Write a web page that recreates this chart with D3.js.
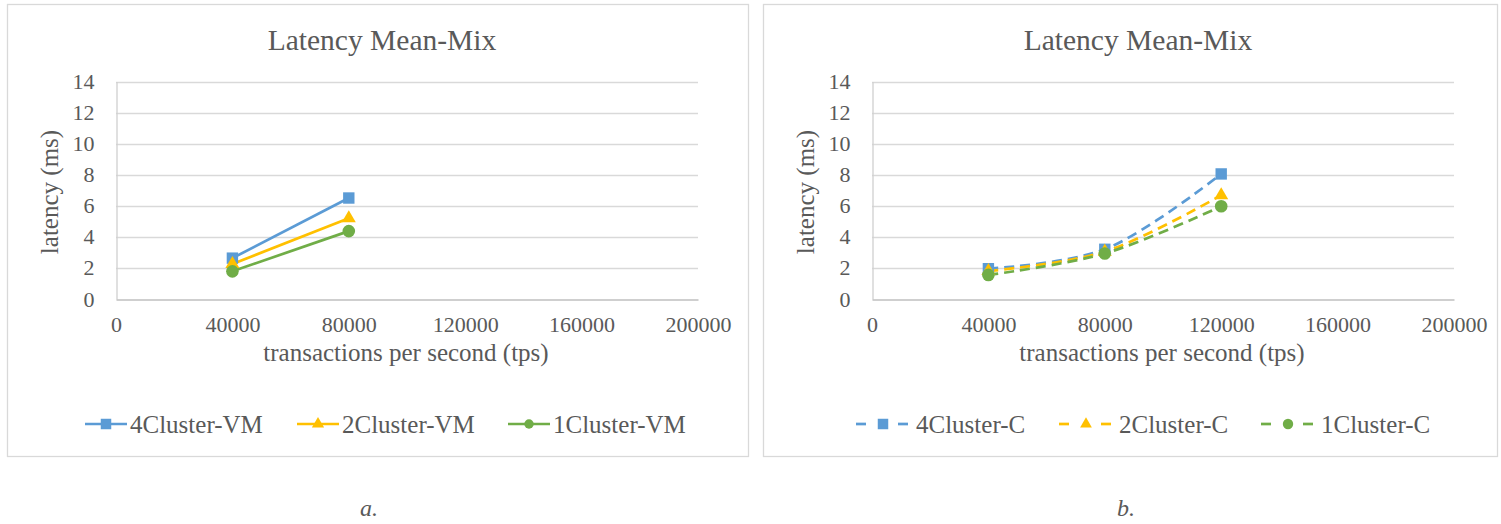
<!DOCTYPE html>
<html>
<head>
<meta charset="utf-8">
<script src="https://cdn.jsdelivr.net/npm/d3@7"></script>
<style>
  html, body { margin: 0; padding: 0; background: #fff; }
  svg { display: block; }
  svg text { fill: #595959; }
</style>
</head>
<body>
<svg id="chart" width="1501" height="524"></svg>
<script>
// Throughput (tps) at which latency was measured
const tpsVM = [40000, 80000];
const tpsC = [40000, 80000, 120000];

// Mean latency (ms), VM deployments
const vm4 = [2.63, 6.5];
const vm2 = [2.25, 5.2];
const vm1 = [1.78, 4.37];

// Mean latency (ms), container deployments
const c4 = [1.95, 3.2, 8.05];
const c2 = [1.8, 3.05, 6.68];
const c1 = [1.55, 2.93, 5.97];

const xTicks = [0, 40000, 80000, 120000, 160000, 200000];
const yTicks = [0, 2, 4, 6, 8, 10, 12, 14];

const blue = "#5B9BD5", gold = "#FFC000", green = "#70AD47";
const serif = "Liberation Serif, Times New Roman, Tinos, Noto Serif, DejaVu Serif, serif";

const svg = d3.select("#chart");

function drawPanel(cfg) {
  const g = svg.append("g").style("font-family", serif);
  // outer frame
  g.append("rect")
    .attr("x", cfg.fx + 0.5).attr("y", 4.5)
    .attr("width", cfg.fw).attr("height", 452)
    .attr("fill", "#fff").attr("stroke", "#d9d9d9").attr("stroke-width", 1.3);

  const x = d3.scaleLinear().domain([0, 200000]).range([cfg.left, cfg.right]);
  const y = d3.scaleLinear().domain([0, 14]).range([299, 81.5]);

  // horizontal gridlines
  g.append("g").selectAll("line").data(yTicks.filter(t => t > 0)).join("line")
    .attr("x1", cfg.left).attr("x2", cfg.right)
    .attr("y1", d => Math.round(y(d)) + 0.5).attr("y2", d => Math.round(y(d)) + 0.5)
    .attr("stroke", "#d9d9d9").attr("stroke-width", 1.4);

  // axes
  const yAxis = d3.axisLeft(y).tickValues(yTicks).tickSize(0).tickPadding(22);
  const ya = g.append("g").attr("transform", `translate(${cfg.left + 0.5},0)`).call(yAxis);
  ya.attr("font-family", null).attr("font-size", null);
  ya.select(".domain").attr("stroke", "#d0d0d0").attr("stroke-width", 1.3);
  ya.selectAll("text").attr("fill", "#595959").style("font-family", serif).style("font-size", "22px");

  const xAxis = d3.axisBottom(x).tickValues(xTicks).tickSize(0).tickPadding(17).tickFormat(d3.format("d"));
  const xa = g.append("g").attr("transform", `translate(0,${299.5})`).call(xAxis);
  xa.attr("font-family", null).attr("font-size", null);
  xa.select(".domain").attr("stroke", "#bfbfbf").attr("stroke-width", 1.4);
  xa.selectAll("text").attr("fill", "#595959").style("font-family", serif).style("font-size", "22px");

  // titles
  g.append("text").attr("x", cfg.fx + 375).attr("y", 50)
    .attr("text-anchor", "middle").style("font-size", "29.5px").text("Latency Mean-Mix");
  g.append("text").attr("x", (cfg.left + cfg.right) / 2 - 1).attr("y", 361)
    .attr("text-anchor", "middle").style("font-size", "25px").text("transactions per second (tps)");
  g.append("text")
    .attr("transform", `translate(${cfg.left - 58},192) rotate(-90)`)
    .attr("text-anchor", "middle").style("font-size", "25px").text("latency (ms)");

  // series lines
  const line = d3.line().x(d => x(d[0])).y(d => y(d[1])).curve(cfg.curve);
  cfg.series.forEach(s => {
    const pts = cfg.tps.map((t, i) => [t, s.values[i]]);
    g.append("path").datum(pts).attr("d", line)
      .attr("fill", "none").attr("stroke", s.color).attr("stroke-width", 2.7)
      .attr("stroke-dasharray", cfg.dash || null).attr("stroke-linecap", "butt");
  });
  // series markers
  cfg.series.forEach(s => {
    const pts = cfg.tps.map((t, i) => [t, s.values[i]]);
    g.append("g").selectAll("path").data(pts).join("path")
      .attr("transform", d => `translate(${x(d[0])},${y(d[1])})`)
      .attr("d", d3.symbol().type(s.symbol).size(s.size))
      .attr("fill", s.color);
  });

  // legend
  const lg = g.append("g");
  cfg.series.forEach((s, i) => {
    const lx = cfg.legendX[i], ly = 424;
    let mx, tx;
    if (cfg.dash) {
      lg.append("line").attr("x1", lx).attr("x2", lx + 10).attr("y1", ly).attr("y2", ly)
        .attr("stroke", s.color).attr("stroke-width", 2.7);
      lg.append("line").attr("x1", lx + 42).attr("x2", lx + 52).attr("y1", ly).attr("y2", ly)
        .attr("stroke", s.color).attr("stroke-width", 2.7);
      mx = lx + 27; tx = lx + 60;
    } else {
      lg.append("line").attr("x1", lx).attr("x2", lx + 42).attr("y1", ly).attr("y2", ly)
        .attr("stroke", s.color).attr("stroke-width", 2.7);
      mx = lx + 21; tx = lx + 45;
    }
    lg.append("path").attr("transform", `translate(${mx},${ly})`)
      .attr("d", d3.symbol().type(s.symbol).size(s.legendSize)).attr("fill", s.color);
    lg.append("text").attr("x", tx).attr("y", ly + 8.5)
      .style("font-size", "25px").text(s.name);
  });

  // caption
  svg.append("text").attr("x", cfg.capX).attr("y", 516)
    .attr("text-anchor", "middle").style("font-family", serif)
    .style("font-size", "24px").style("font-style", "italic")
    .text(cfg.caption);
}

drawPanel({
  fx: 7, fw: 741, left: 116, right: 698,
  tps: tpsVM, curve: d3.curveLinear, dash: null,
  legendX: [85, 297, 508], caption: "a.", capX: 369,
  series: [
    { name: "4Cluster-VM", values: vm4, color: blue, symbol: d3.symbolSquare, size: 130, legendSize: 110 },
    { name: "2Cluster-VM", values: vm2, color: gold, symbol: d3.symbolTriangle, size: 85, legendSize: 65 },
    { name: "1Cluster-VM", values: vm1, color: green, symbol: d3.symbolCircle, size: 125, legendSize: 70 }
  ]
});

drawPanel({
  fx: 763, fw: 734, left: 872, right: 1454,
  tps: tpsC, curve: d3.curveCatmullRom.alpha(0.5), dash: "10,6",
  legendX: [856, 1059, 1261], caption: "b.", capX: 1126,
  series: [
    { name: "4Cluster-C", values: c4, color: blue, symbol: d3.symbolSquare, size: 130, legendSize: 110 },
    { name: "2Cluster-C", values: c2, color: gold, symbol: d3.symbolTriangle, size: 85, legendSize: 60 },
    { name: "1Cluster-C", values: c1, color: green, symbol: d3.symbolCircle, size: 125, legendSize: 85 }
  ]
});
</script>
</body>
</html>
